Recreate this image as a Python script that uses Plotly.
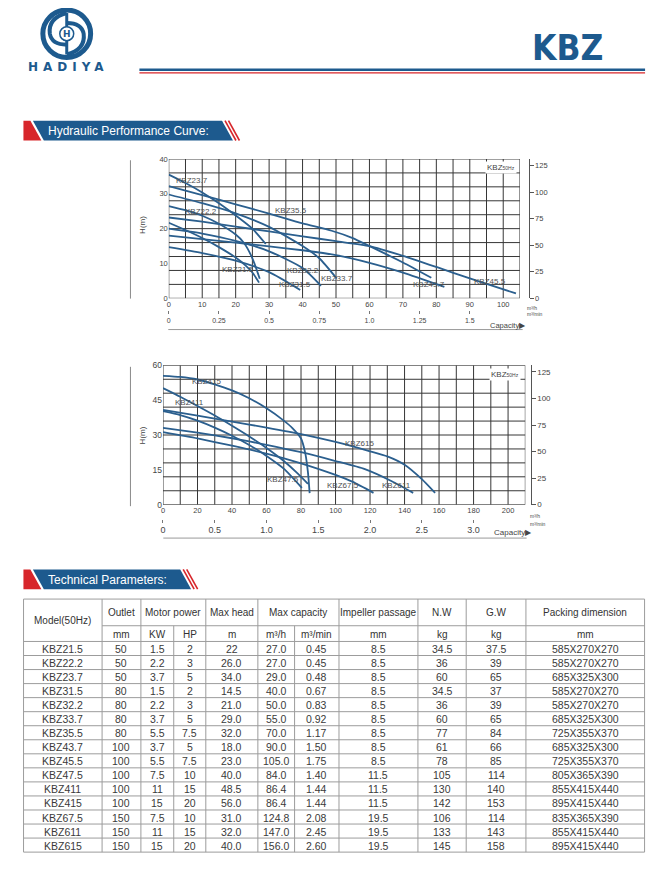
import plotly.graph_objects as go

# page geometry: the browser body keeps an 8px margin, so the figure is placed at (8, 8)
PAGE_W, PAGE_H = 669, 871
OFF = 8
W, H = PAGE_W - 2 * OFF, PAGE_H - 2 * OFF


def fx(x):
    return (x - OFF) / W


def fy(y):
    return 1 - (y - OFF) / H


BLUE = "#1d5a8e"
RED = "#d7262b"
CURVE = "#2b5f8e"
GRID = "#363636"
TXT = "#454545"
FONT = "Liberation Sans, Arial, sans-serif"

# ---------------- chart 1 data (Q in m3/h, H in m) ----------------
c1_models = ["KBZ21.5", "KBZ22.2", "KBZ23.7", "KBZ31.5", "KBZ32.2",
             "KBZ33.7", "KBZ35.5", "KBZ43.7", "KBZ45.5"]
q_kbz21_5 = [0, 5, 10, 15, 20, 23, 25, 27]
h_kbz21_5 = [21.7, 19.6, 17.3, 14.7, 11.7, 9.4, 7.4, 4.5]
q_kbz22_2 = [0, 5, 10, 15, 20, 22.5, 25, 27.2]
h_kbz22_2 = [26.5, 25.3, 23.7, 21.4, 18.3, 15.9, 11.5, 5.6]
q_kbz23_7 = [0, 5, 10, 15, 20, 25, 29]
h_kbz23_7 = [35.5, 33.1, 30.4, 27.3, 23.8, 20.0, 15.6]
q_kbz31_5 = [0, 10, 20, 30, 39.3]
h_kbz31_5 = [14.7, 13.0, 10.8, 7.5, 2.4]
q_kbz32_2 = [0, 10, 20, 30, 40, 45.5]
h_kbz32_2 = [20.0, 18.6, 16.5, 13.5, 8.7, 3.6]
q_kbz33_7 = [0, 10, 20, 30, 40, 45, 50.2]
h_kbz33_7 = [29.8, 27.3, 24.4, 20.5, 15.0, 11.5, 5.7]
q_kbz35_5 = [0, 10, 20, 30, 40, 48.7, 55, 60, 70, 78.5]
h_kbz35_5 = [32.2, 29.6, 27.0, 24.3, 21.5, 19.4, 17.3, 15.0, 10.3, 5.9]
q_kbz43_7 = [0, 10, 20, 30, 40, 50, 60, 70, 82.4]
h_kbz43_7 = [18.0, 17.0, 16.0, 14.9, 13.8, 12.4, 10.2, 7.4, 3.3]
q_kbz45_5 = [0, 10, 20, 30, 40, 50, 60, 70, 80, 90, 103.8]
h_kbz45_5 = [23.2, 22.0, 20.6, 19.2, 17.8, 16.4, 15.0, 12.2, 9.0, 5.7, 1.4]

# ---------------- chart 2 data ----------------
c2_models = ["KBZ47.5", "KBZ411", "KBZ415", "KBZ67.5", "KBZ611", "KBZ615"]
q_kbz47_5 = [0, 10, 20, 30, 40, 50, 60, 70, 80.5]
h_kbz47_5 = [40.3, 38.6, 36.2, 33.2, 29.7, 25.7, 21.0, 15.5, 7.2]
q_kbz411 = [0, 10, 20, 30, 40, 50, 60, 70, 78, 84]
h_kbz411 = [50.2, 46.5, 42.5, 38.4, 34.0, 29.4, 24.4, 18.8, 13.5, 9.0]
q_kbz415 = [0, 10, 20, 30, 40, 50, 60, 70, 75, 80, 82.5, 84, 85]
h_kbz415 = [55.5, 55.0, 53.9, 51.8, 49.2, 45.8, 41.5, 36.2, 33.0, 28.5, 22.0, 14.0, 5.0]
q_kbz67_5 = [0, 20, 40, 60, 80, 100, 110, 122]
h_kbz67_5 = [31.2, 28.5, 25.4, 22.0, 17.8, 12.8, 9.8, 5.1]
q_kbz611 = [0, 20, 40, 60, 80, 100, 117, 132.6, 145]
h_kbz611 = [33.1, 31.0, 28.6, 25.8, 22.6, 18.8, 15.3, 10.1, 5.1]
q_kbz615 = [0, 20, 40, 60, 80, 100, 120, 130, 140, 150, 157.7]
h_kbz615 = [40.8, 38.3, 35.8, 33.2, 30.4, 27.0, 23.0, 20.8, 17.2, 11.0, 5.1]

# axis tick labels
c1_q_ticks = [0, 10, 20, 30, 40, 50, 60, 70, 80, 90, 100]
c1_h_ticks = [0, 10, 20, 30, 40]
c1_min_ticks = [0, 0.25, 0.5, 0.75, 1.0, 1.25, 1.5]
c1_min_text = ["0", "0.25", "0.5", "0.75", "1.0", "1.25", "1.5"]
c2_q_ticks = [0, 20, 40, 60, 80, 100, 120, 140, 160, 180, 200]
c2_h_ticks = [0, 15, 30, 45, 60]
c2_min_ticks = [0, 0.5, 1.0, 1.5, 2.0, 2.5, 3.0]
c2_min_text = ["0", "0.5", "1.0", "1.5", "2.0", "2.5", "3.0"]
ft_ticks = [0, 25, 50, 75, 100, 125]

# ---------------- table data ----------------
t_model = ["KBZ21.5", "KBZ22.2", "KBZ23.7", "KBZ31.5", "KBZ32.2", "KBZ33.7", "KBZ35.5", "KBZ43.7",
           "KBZ45.5", "KBZ47.5", "KBZ411", "KBZ415", "KBZ67.5", "KBZ611", "KBZ615"]
t_outlet = ["50", "50", "50", "80", "80", "80", "80", "100", "100", "100", "100", "100", "150", "150", "150"]
t_kw = ["1.5", "2.2", "3.7", "1.5", "2.2", "3.7", "5.5", "3.7", "5.5", "7.5", "11", "15", "7.5", "11", "15"]
t_hp = ["2", "3", "5", "2", "3", "5", "7.5", "5", "7.5", "10", "15", "20", "10", "15", "20"]
t_head = ["22", "26.0", "34.0", "14.5", "21.0", "29.0", "32.0", "18.0", "23.0", "40.0", "48.5", "56.0",
          "31.0", "32.0", "40.0"]
t_cap_h = ["27.0", "27.0", "29.0", "40.0", "50.0", "55.0", "70.0", "90.0", "105.0", "84.0", "86.4", "86.4",
           "124.8", "147.0", "156.0"]
t_cap_min = ["0.45", "0.45", "0.48", "0.67", "0.83", "0.92", "1.17", "1.50", "1.75", "1.40", "1.44", "1.44",
             "2.08", "2.45", "2.60"]
t_impeller = ["8.5", "8.5", "8.5", "8.5", "8.5", "8.5", "8.5", "8.5", "8.5", "11.5", "11.5", "11.5",
              "19.5", "19.5", "19.5"]
t_nw = ["34.5", "36", "60", "34.5", "36", "60", "77", "61", "78", "105", "130", "142", "106", "133", "145"]
t_gw = ["37.5", "39", "65", "37", "39", "65", "84", "66", "85", "114", "140", "153", "114", "143", "158"]
t_pack = ["585X270X270", "585X270X270", "685X325X300", "585X270X270", "585X270X270", "685X325X300",
          "725X355X370", "685X325X300", "725X355X370", "805X365X390", "855X415X440", "895X415X440",
          "835X365X390", "855X415X440", "895X415X440"]
t_head1 = ["Model(50Hz)", "Outlet", "Motor power", "Max head", "Max capacity", "Impeller passage",
           "N.W", "G.W", "Packing dimension"]
t_units = ["mm", "KW", "HP", "m", "m³/h", "m³/min", "mm", "kg", "kg", "mm"]

# ---------------- figure ----------------
fig = go.Figure()

c1_series = [(q_kbz21_5, h_kbz21_5), (q_kbz22_2, h_kbz22_2), (q_kbz23_7, h_kbz23_7),
             (q_kbz31_5, h_kbz31_5), (q_kbz32_2, h_kbz32_2), (q_kbz33_7, h_kbz33_7),
             (q_kbz35_5, h_kbz35_5), (q_kbz43_7, h_kbz43_7), (q_kbz45_5, h_kbz45_5)]
for name, (q, h) in zip(c1_models, c1_series):
    fig.add_trace(go.Scatter(x=q, y=h, mode="lines", name=name, xaxis="x", yaxis="y",
                             line=dict(color=CURVE, width=1.8, shape="spline", smoothing=0.6),
                             hoverinfo="skip", showlegend=False))

c2_series = [(q_kbz47_5, h_kbz47_5), (q_kbz411, h_kbz411), (q_kbz415, h_kbz415),
             (q_kbz67_5, h_kbz67_5), (q_kbz611, h_kbz611), (q_kbz615, h_kbz615)]
for name, (q, h) in zip(c2_models, c2_series):
    fig.add_trace(go.Scatter(x=q, y=h, mode="lines", name=name, xaxis="x2", yaxis="y2",
                             line=dict(color=CURVE, width=1.8, shape="spline", smoothing=0.6),
                             hoverinfo="skip", showlegend=False))

# invisible traces so the secondary axes are drawn
for xa, ya in [("x3", "y"), ("x", "y3"), ("x4", "y2"), ("x2", "y4")]:
    fig.add_trace(go.Scatter(x=[0], y=[0], xaxis=xa, yaxis=ya, mode="markers",
                             marker=dict(size=1, opacity=0), hoverinfo="skip", showlegend=False))

shapes = []
annotations = []


def pline(x0, y0, x1, y1, color, width=1.0):
    shapes.append(dict(type="line", xref="paper", yref="paper", x0=fx(x0), y0=fy(y0),
                       x1=fx(x1), y1=fy(y1), line=dict(color=color, width=width)))


def ppoly(points, fill):
    d = "M " + " L ".join(f"{fx(x):.5f},{fy(y):.5f}" for x, y in points) + " Z"
    shapes.append(dict(type="path", xref="paper", yref="paper", path=d, fillcolor=fill,
                       line=dict(width=0)))


def ptext(text, x, y, size, color=TXT, xanchor="center", yanchor="middle", family=FONT, **kw):
    annotations.append(dict(text=text, x=fx(x), y=fy(y), xref="paper", yref="paper",
                            showarrow=False, xanchor=xanchor, yanchor=yanchor,
                            font=dict(size=size, color=color, family=family), **kw))


def ppath(d_px, color, width, fill=None):
    out = []
    for tok in d_px.split():
        if "," in tok:
            a, b = tok.split(",")
            out.append(f"{fx(float(a)):.5f},{fy(float(b)):.5f}")
        else:
            out.append(tok)
    s = dict(type="path", xref="paper", yref="paper", path=" ".join(out), line=dict(color=color, width=width))
    if fill:
        s["fillcolor"] = fill
    shapes.append(s)


# ---------- header ----------
shapes.append(dict(type="circle", xref="paper", yref="paper", x0=fx(40), x1=fx(88), y0=fy(53), y1=fy(5),
                   line=dict(color=BLUE, width=5)))
ppath("M 64,8 Q 45,13 47,29 Q 49,40 64,40", BLUE, 4)
ppath("M 64,50 Q 83,45 81,29 Q 79,18 64,18", BLUE, 4)
pline(64, 8, 64, 50, BLUE, 3)
shapes.append(dict(type="circle", xref="paper", yref="paper", x0=fx(57), x1=fx(71), y0=fy(36), y1=fy(22),
                   fillcolor="white", line=dict(color=BLUE, width=1.5)))
ptext("<b>H</b>", 64, 29.5, 9, BLUE, family="DejaVu Sans")
ptext('<b><span style="letter-spacing:5px">HADIYA</span></b>', 66, 63, 12, BLUE, family="DejaVu Sans")
ptext("<b>KBZ</b>", 567, 43, 35, BLUE, family="Liberation Sans Narrow, DejaVu Sans Condensed, sans-serif")
pline(137, 65.5, 645, 65.5, BLUE, 2.5)
pline(137, 68.6, 645, 68.6, RED, 1.2)


# ---------- section banners ----------
def banner(yt, xr, text):
    yb = yt + 20
    s = 11
    ppoly([(20.5, yt), (27.5, yt), (27.5 + s, yb), (20.5, yb)], RED)
    ppoly([(30, yt), (xr, yt), (xr + s, yb), (30 + s, yb)], BLUE)
    pline(xr + 3, yt, xr + 3 + s, yb, RED, 1.6)
    pline(xr + 6.5, yt, xr + 6.5 + s, yb, RED, 1.6)
    ptext(text, 43, yt + 10.5, 12, "white", xanchor="left")


banner(117, 220, "Hydraulic Performance Curve:")
banner(571, 178, "Technical Parameters:")

# ---------- chart decorations ----------
for q in range(0, 106, 5):
    shapes.append(dict(type="line", xref="x", yref="y", x0=q, x1=q, y0=0, y1=40, layer="below",
                       line=dict(color=GRID, width=1)))
for h in range(0, 41, 4):
    shapes.append(dict(type="line", xref="x", yref="y", x0=0, x1=105, y0=h, y1=h, layer="below",
                       line=dict(color=GRID, width=1)))
for q in range(0, 211, 10):
    shapes.append(dict(type="line", xref="x2", yref="y2", x0=q, x1=q, y0=0, y1=60, layer="below",
                       line=dict(color=GRID, width=1)))
for h in range(0, 61, 6):
    shapes.append(dict(type="line", xref="x2", yref="y2", x0=0, x1=210, y0=h, y1=h, layer="below",
                       line=dict(color=GRID, width=1)))

# side / bottom rules
pline(128, 157, 128, 297, "#8a8a8a", 1)
pline(128, 366, 128, 507, "#8a8a8a", 1)
pline(166, 328.3, 522, 328.3, "#9a9a9a", 1)
pline(161, 539.3, 526, 539.3, "#9a9a9a", 1)

ptext("H(m)", 140, 222, 8, TXT, textangle=-90)
ptext("H(m)", 140, 435, 8, TXT, textangle=-90)
ptext("Capacity▶", 527, 324, 7.5, TXT, xanchor="right")
ptext("Capacity▶", 533, 534, 8, TXT, xanchor="right")
ptext("m³/h", 524, 306, 5, TXT, xanchor="left")
ptext("m³/min", 524, 313, 5, TXT, xanchor="left")
ptext("m³/h", 527, 517, 5, TXT, xanchor="left")
ptext("m³/min", 527, 525, 5, TXT, xanchor="left")
ptext('KBZ<span style="font-size:5px">50Hz</span>', 516, 164, 8, TXT, xanchor="right", bgcolor="white")
ptext('KBZ<span style="font-size:5px">50Hz</span>', 520, 373.5, 8, TXT, xanchor="right", bgcolor="white")

# curve labels (data coordinates)
c1_label_pos = {"KBZ23.7": (7.05, 33.7), "KBZ22.2": (9.6, 24.9), "KBZ35.5": (36.5, 25.2),
                "KBZ21.5": (20.7, 8.4), "KBZ32.2": (40.1, 7.9), "KBZ33.7": (50.2, 5.6),
                "KBZ31.5": (37.7, 3.9), "KBZ43.7": (77.7, 3.9), "KBZ45.5": (95.9, 4.7)}
c2_label_pos = {"KBZ415": (25, 52.9), "KBZ411": (15.5, 43.9), "KBZ47.5": (69.5, 10.7),
                "KBZ67.5": (104.2, 8.1), "KBZ611": (135.4, 8.2), "KBZ615": (114, 26.4)}
for name in c1_models:
    x, y = c1_label_pos[name]
    annotations.append(dict(text=name, x=x, y=y, xref="x", yref="y", showarrow=False,
                            font=dict(size=8, color="#505050", family=FONT)))
for name in c2_models:
    x, y = c2_label_pos[name]
    annotations.append(dict(text=name, x=x, y=y, xref="x2", yref="y2", showarrow=False,
                            font=dict(size=8, color="#505050", family=FONT)))

# ---------- table ----------
col_x = [20.6, 99.5, 138.5, 171.5, 203.7, 256.0, 292.9, 337.5, 416.8, 465.3, 525.3, 644.5]
T_TOP, T_MID, T_HEAD = 601.0, 628.0, 643.9
ROW_H = 14.21
n_rows = len(t_model)
T_BOT = T_HEAD + ROW_H * n_rows
TL = "#9c9c9c"

pline(col_x[0], T_TOP, col_x[-1], T_TOP, TL, 1)
pline(col_x[1], T_MID, col_x[-1], T_MID, TL, 1)
for k in range(n_rows + 1):
    yy = T_HEAD + ROW_H * k
    pline(col_x[0], yy, col_x[-1], yy, TL, 1)
for i, xx in enumerate(col_x):
    top = T_MID if i in (3, 6) else T_TOP
    pline(xx, top, xx, T_BOT, TL, 1)


def cc(i, j):
    return (col_x[i] + col_x[j]) / 2


head_x = [cc(0, 1), cc(1, 2), cc(2, 4), cc(4, 5), cc(5, 7), cc(7, 8), cc(8, 9), cc(9, 10), cc(10, 11)]
for k, (txt, xx) in enumerate(zip(t_head1, head_x)):
    yy = (T_TOP + T_HEAD) / 2 if k == 0 else (T_TOP + T_MID) / 2
    ptext(txt, xx, yy + 0.5, 10, "#333333")
unit_x = [cc(i, i + 1) for i in range(1, 11)]
for txt, xx in zip(t_units, unit_x):
    ptext(txt, xx, (T_MID + T_HEAD) / 2 + 0.5, 10, "#333333")

cols = [t_model, t_outlet, t_kw, t_hp, t_head, t_cap_h, t_cap_min, t_impeller, t_nw, t_gw, t_pack]
for i in range(n_rows):
    yy = T_HEAD + ROW_H * (i + 0.5) + 0.5
    for c, col in enumerate(cols):
        ptext(col[i], cc(c, c + 1), yy, 10.5, "#3a3a3a")

# ---------- layout ----------
tickf = dict(size=7.5, color=TXT, family=FONT)
fig.update_layout(
    width=W, height=H, margin=dict(l=0, r=0, t=0, b=0),
    paper_bgcolor="white", plot_bgcolor="white", showlegend=False,
    font=dict(family=FONT),
    xaxis=dict(domain=[fx(166.5), fx(519.3)], range=[0, 105], anchor="y", tickvals=c1_q_ticks,
               showgrid=False, zeroline=False, showline=False, ticks="", tickfont=tickf, fixedrange=True),
    yaxis=dict(domain=[fy(296.7), fy(155.7)], range=[0, 40], anchor="x", tickvals=c1_h_ticks,
               showgrid=False, zeroline=False, showline=False, ticks="", tickfont=tickf, fixedrange=True),
    xaxis3=dict(overlaying="x", anchor="free", position=fy(309), side="bottom", range=[0, 1.75],
                tickvals=c1_min_ticks, ticktext=c1_min_text, ticks="outside", ticklen=3, tickcolor="#777",
                showgrid=False, zeroline=False, showline=False, tickfont=dict(size=7, color=TXT, family=FONT)),
    yaxis3=dict(overlaying="y", anchor="free", position=fx(528), side="right", range=[0, 131.2],
                tickvals=ft_ticks, ticks="outside", ticklen=4, tickcolor="#555", showline=True,
                linecolor="#555", linewidth=1, showgrid=False, zeroline=False, tickfont=tickf),
    xaxis2=dict(domain=[fx(160.7), fx(524.7)], range=[0, 210], anchor="y2", tickvals=c2_q_ticks,
                showgrid=False, zeroline=False, showline=False, ticks="", tickfont=tickf, fixedrange=True),
    yaxis2=dict(domain=[fy(505.5), fy(364.5)], range=[0, 60], anchor="x2", tickvals=c2_h_ticks,
                showgrid=False, zeroline=False, showline=False, ticks="",
                tickfont=dict(size=8.5, color=TXT, family=FONT), fixedrange=True),
    xaxis4=dict(overlaying="x2", anchor="free", position=fy(519.5), side="bottom", range=[0, 3.5],
                tickvals=c2_min_ticks, ticktext=c2_min_text, ticks="outside", ticklen=3, tickcolor="#777",
                showgrid=False, zeroline=False, showline=False, tickfont=dict(size=9, color=TXT, family=FONT)),
    yaxis4=dict(overlaying="y2", anchor="free", position=fx(530), side="right", range=[0, 131.2],
                tickvals=ft_ticks, ticks="outside", ticklen=4, tickcolor="#555", showline=True,
                linecolor="#555", linewidth=1, showgrid=False, zeroline=False,
                tickfont=dict(size=8, color=TXT, family=FONT)),
    shapes=shapes, annotations=annotations,
)

fig.write_html("out.html")
